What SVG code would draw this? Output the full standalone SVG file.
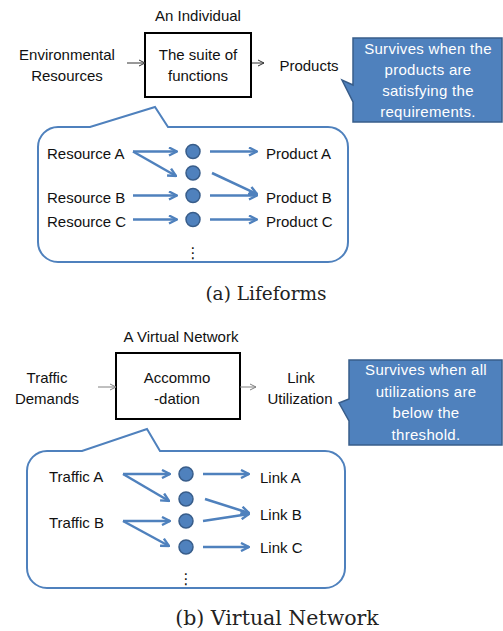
<svg xmlns="http://www.w3.org/2000/svg" width="503" height="631" viewBox="0 0 503 631">
  <defs>
    <style>
      .t { font-family: "Liberation Sans", Arial, sans-serif; font-size: 15px; fill: #111; }
      .c { text-anchor: middle; }
      .w { font-family: "Liberation Sans", Arial, sans-serif; font-size: 15px; letter-spacing: 0.3px; fill: #fff; text-anchor: middle; }
      .cap { font-family: "DejaVu Serif", "Liberation Serif", serif; fill: #222; text-anchor: middle; }
      .box { fill: #fff; stroke: #000; stroke-width: 2; }
      .bubble { fill: #fff; stroke: #4f81bd; stroke-width: 2; stroke-linejoin: miter; }
      .callout { fill: #4f81bd; stroke: #385d8a; stroke-width: 1.5; }
      .dot { fill: #4f81bd; stroke: #385d8a; stroke-width: 1.5; }
      .flow { fill: none; stroke: #4f81bd; stroke-width: 2.5; marker-end: url(#blueHead); }
      .thin { fill: none; stroke: #333; stroke-width: 1; marker-end: url(#thinHead); }
      .thin2 { fill: none; stroke: #808080; stroke-width: 1; marker-end: url(#thinHead2); }
      .dots { font-family: "DejaVu Sans", sans-serif; font-size: 15px; fill: #111; text-anchor: middle; }
    </style>
    <marker id="blueHead" viewBox="0 0 10 10" refX="9" refY="5" markerWidth="10" markerHeight="10" markerUnits="userSpaceOnUse" orient="auto">
      <path d="M1,1 L9,5 L1,9" fill="none" stroke="#4f81bd" stroke-width="2.4"/>
    </marker>
    <marker id="thinHead" viewBox="0 0 8 8" refX="7" refY="4" markerWidth="8" markerHeight="8" markerUnits="userSpaceOnUse" orient="auto">
      <path d="M1,1 L7,4 L1,7" fill="none" stroke="#333" stroke-width="1"/>
    </marker>
    <marker id="thinHead2" viewBox="0 0 8 8" refX="7" refY="4" markerWidth="8" markerHeight="8" markerUnits="userSpaceOnUse" orient="auto">
      <path d="M1,1 L7,4 L1,7" fill="none" stroke="#808080" stroke-width="1"/>
    </marker>
  </defs>
  <rect width="503" height="631" fill="#fff"/>

  <!-- (a) Lifeforms -->
  <g id="individual">
    <text class="t c" x="198" y="21">An Individual</text>
    <rect class="box" x="145" y="33" width="106" height="64"/>
    <text class="t c" x="198" y="60">The suite of</text>
    <text class="t c" x="198" y="81">functions</text>
  </g>
  <g id="env-resources">
    <text class="t c" x="67" y="60">Environmental</text>
    <text class="t c" x="67" y="81">Resources</text>
  </g>
  <g id="products">
    <text class="t c" x="309" y="71">Products</text>
  </g>
  <g id="callout-a">
    <path class="callout" d="M353,38 H502 V122 H353 V102 L342,80 L353,85 Z"/>
    <text class="w" x="428" y="54">Survives when the</text>
    <text class="w" x="428" y="75">products are</text>
    <text class="w" x="428" y="96">satisfying the</text>
    <text class="w" x="428" y="117">requirements.</text>
  </g>
  <g id="bubble-a">
    <path class="bubble" d="M58,127 H90 L155,107 L168,127 H328 A20,20 0 0 1 348,147 V242 A20,20 0 0 1 328,262 H58 A20,20 0 0 1 38,242 V147 A20,20 0 0 1 58,127 Z"/>
    <text class="t" x="47" y="159">Resource A</text>
    <text class="t" x="47" y="203">Resource B</text>
    <text class="t" x="47" y="227">Resource C</text>
    <text class="t" x="266" y="159">Product A</text>
    <text class="t" x="266" y="203">Product B</text>
    <text class="t" x="266" y="227">Product C</text>
    <text class="dots" x="193" y="258">⋮</text>
  </g>
  <g id="functions-a">
    <circle class="dot" cx="193" cy="151.5" r="7"/>
    <circle class="dot" cx="193" cy="173" r="7"/>
    <circle class="dot" cx="193" cy="195.5" r="7"/>
    <circle class="dot" cx="193" cy="219.5" r="7"/>
  </g>

  <!-- (b) Virtual Network -->
  <g id="virtual-network">
    <text class="t c" x="181" y="342">A Virtual Network</text>
    <rect class="box" x="116" y="353" width="124" height="66"/>
    <text class="t c" x="177" y="383">Accommo</text>
    <text class="t c" x="177" y="404">-dation</text>
  </g>
  <g id="traffic-demands">
    <text class="t c" x="47" y="383">Traffic</text>
    <text class="t c" x="47" y="404">Demands</text>
  </g>
  <g id="link-utilization">
    <text class="t c" x="301" y="383">Link</text>
    <text class="t c" x="300" y="404">Utilization</text>
  </g>
  <g id="callout-b">
    <path class="callout" d="M349,360 H502 V445 H349 V421 L339,403 L349,399 Z"/>
    <text class="w" x="426" y="375">Survives when all</text>
    <text class="w" x="426" y="397">utilizations are</text>
    <text class="w" x="426" y="418">below the</text>
    <text class="w" x="426" y="440">threshold.</text>
  </g>
  <g id="bubble-b">
    <path class="bubble" d="M47,451 H82 L147,429 L160,451 H325 A20,20 0 0 1 345,471 V568 A20,20 0 0 1 325,588 H47 A20,20 0 0 1 27,568 V471 A20,20 0 0 1 47,451 Z"/>
    <text class="t" x="49" y="482">Traffic A</text>
    <text class="t" x="49" y="528">Traffic B</text>
    <text class="t" x="260" y="483">Link A</text>
    <text class="t" x="260" y="520">Link B</text>
    <text class="t" x="260" y="553">Link C</text>
    <text class="dots" x="186" y="584">⋮</text>
  </g>
  <g id="links-b">
    <circle class="dot" cx="186" cy="474" r="7"/>
    <circle class="dot" cx="186" cy="499" r="7"/>
    <circle class="dot" cx="186" cy="521" r="7"/>
    <circle class="dot" cx="186" cy="547" r="7"/>
  </g>

  <g id="connectors">
    <!-- (a) -->
    <path class="thin" d="M127,63 H145"/>
    <path class="thin" d="M252,63 H264"/>
    <path class="flow" d="M133,151.5 H177"/>
    <path class="flow" d="M133,151.5 L176,176"/>
    <path class="flow" d="M133,195.5 H177"/>
    <path class="flow" d="M133,219.5 H177"/>
    <path class="flow" d="M210,151.5 H257"/>
    <path class="flow" d="M212,173 L257,194"/>
    <path class="flow" d="M210,195.5 H257"/>
    <path class="flow" d="M210,219.5 H257"/>
    <!-- (b) -->
    <path class="thin2" d="M98,387 H116"/>
    <path class="thin2" d="M240,387 H256"/>
    <path class="flow" d="M123,474 H170"/>
    <path class="flow" d="M123,474 L169,501"/>
    <path class="flow" d="M123,521 H170"/>
    <path class="flow" d="M123,521 L169,546"/>
    <path class="flow" d="M203,474 H249"/>
    <path class="flow" d="M205,499 L249,513"/>
    <path class="flow" d="M203,521 L249,514"/>
    <path class="flow" d="M203,547 H249"/>
  </g>

  <g id="captions">
    <text class="cap" x="266" y="300" font-size="18.5">(a) Lifeforms</text>
    <text class="cap" x="277" y="625" font-size="20.5">(b) Virtual Network</text>
  </g>
</svg>
